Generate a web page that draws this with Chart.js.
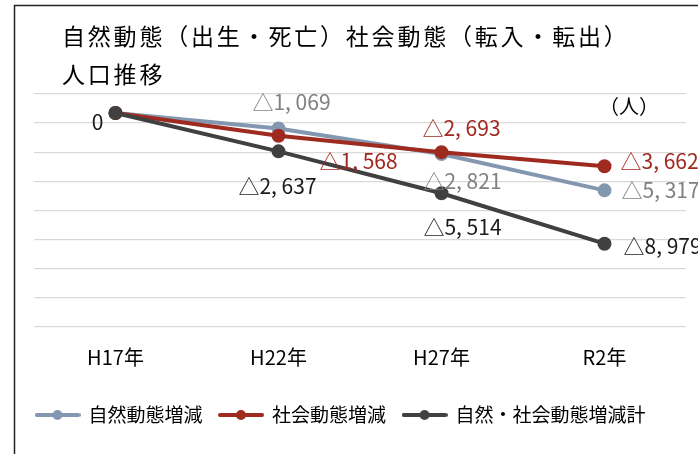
<!DOCTYPE html>
<html lang="ja">
<head>
<meta charset="utf-8">
<title>人口推移</title>
<script src="https://cdn.jsdelivr.net/npm/chart.js@4"></script>
<style>
  body { margin: 0; background: #fff; }
  canvas { display: block; }
</style>
</head>
<body>
<canvas id="popChart" width="698" height="454"></canvas>
<script>
const FONT = '"Noto Sans CJK JP", "Noto Sans", sans-serif';

const titleLines = ['自然動態（出生・死亡）社会動態（転入・転出）', '人口推移'];
const unitLabel = '（人）';
const categories = ['H17年', 'H22年', 'H27年', 'R2年'];
const seriesNames = ['自然動態増減', '社会動態増減', '自然・社会動態増減計'];
const naturalChange = [0, -1069, -2821, -5317];
const socialChange = [0, -1568, -2693, -3662];
const totalChange = [0, -2637, -5514, -8979];

const lineColors = ['#8497b0', '#9e2a20', '#404040'];
const labelColors = ['#808080', '#a0281e', '#1a1a1a'];

// where each value label sits relative to its point: [dx, dy, align], null = no label
const labelOffsets = [
  [null, [13, -26, 'center'], [21, 27, 'center'], [17, 0, 'left']],
  [null, [41, 25, 'left'], [20, -24, 'center'], [16, -5, 'left']],
  [[-12, 9, 'right'], [-1, 35, 'center'], [21, 34, 'center'], [19, 2, 'left']]
];

function formatValue(v) {
  if (v === 0) return '0';
  return '△' + Math.abs(v).toLocaleString('en-US').replace(',', ', ');
}

// legend icon: short line with a dot in the middle
function makeIcon(color) {
  const c = document.createElement('canvas');
  c.width = 46;
  c.height = 12;
  const g = c.getContext('2d');
  g.strokeStyle = color;
  g.lineWidth = 4;
  g.lineCap = 'round';
  g.beginPath();
  g.moveTo(2, 6);
  g.lineTo(44, 6);
  g.stroke();
  g.fillStyle = color;
  g.beginPath();
  g.arc(23, 6, 5, 0, Math.PI * 2);
  g.fill();
  return c;
}
const legendIcons = lineColors.map(makeIcon);

const valueLabels = {
  id: 'valueLabels',
  afterDatasetsDraw(chart) {
    const ctx = chart.ctx;
    chart.data.datasets.forEach((ds, i) => {
      const meta = chart.getDatasetMeta(i);
      meta.data.forEach((pt, j) => {
        const o = labelOffsets[i][j];
        if (!o) return;
        ctx.save();
        ctx.font = '21px ' + FONT;
        ctx.fillStyle = labelColors[i];
        ctx.textAlign = o[2];
        ctx.textBaseline = 'middle';
        ctx.fillText(formatValue(ds.data[j]), pt.x + o[0], pt.y + o[1]);
        ctx.restore();
      });
    });
  }
};

const frameAndTitle = {
  id: 'frameAndTitle',
  afterDraw(chart) {
    const ctx = chart.ctx;
    ctx.save();
    ctx.strokeStyle = '#222';
    ctx.lineWidth = 1.5;
    ctx.beginPath();
    ctx.moveTo(14.5, 454);
    ctx.lineTo(14.5, 5.5);
    ctx.lineTo(698, 5.5);
    ctx.stroke();

    ctx.fillStyle = '#000';
    ctx.textBaseline = 'middle';
    ctx.font = '23px ' + FONT;
    ctx.letterSpacing = '2.8px';
    titleLines.forEach((t, i) => ctx.fillText(t, 62, 36 + i * 38));
    ctx.letterSpacing = '0px';

    ctx.font = '20px ' + FONT;
    ctx.textAlign = 'center';
    ctx.fillText(unitLabel, 629, 106);
    ctx.restore();
  }
};

const datasets = [naturalChange, socialChange, totalChange].map((values, i) => ({
  label: seriesNames[i],
  data: values,
  borderColor: lineColors[i],
  backgroundColor: lineColors[i],
  pointBackgroundColor: lineColors[i],
  pointBorderColor: lineColors[i],
  borderWidth: 4,
  pointRadius: 5,
  pointHoverRadius: 5,
  tension: 0,
  order: 2 - i
}));

new Chart(document.getElementById('popChart'), {
  type: 'line',
  data: { labels: categories, datasets: datasets },
  options: {
    responsive: false,
    animation: false,
    layout: { padding: { top: 94, left: 19, right: 12, bottom: 19.5 } },
    scales: {
      x: {
        offset: true,
        grid: { display: false },
        border: { display: false },
        ticks: { color: '#000', font: { size: 20, family: FONT }, padding: 10 },
        afterFit(scale) { scale.height = 61.5; }
      },
      y: {
        min: -14700,
        max: 1300,
        ticks: { display: false, stepSize: 2000 },
        grid: { color: '#d9d9d9', lineWidth: 1.3, drawTicks: false },
        border: { display: false },
        afterFit(scale) { scale.width = 15; }
      }
    },
    plugins: {
      tooltip: { enabled: false },
      legend: {
        position: 'bottom',
        align: 'start',
        labels: {
          usePointStyle: true,
          pointStyleWidth: 43,
          boxHeight: 12,
          padding: 17,
          color: '#000',
          font: { size: 19, family: FONT },
          generateLabels(chart) {
            return chart.data.datasets.map((ds, i) => ({
              text: ds.label,
              pointStyle: legendIcons[i],
              fillStyle: lineColors[i],
              strokeStyle: lineColors[i],
              fontColor: '#000',
              lineWidth: 0,
              hidden: false,
              datasetIndex: i
            }));
          }
        }
      }
    }
  },
  plugins: [valueLabels, frameAndTitle]
});
</script>
</body>
</html>
